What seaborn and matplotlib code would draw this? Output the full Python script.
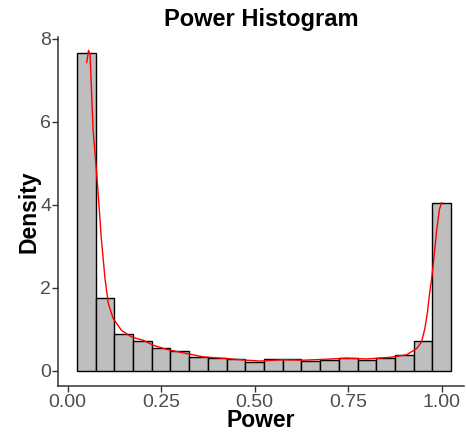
import matplotlib
matplotlib.use("Agg")
import matplotlib.pyplot as plt
import seaborn as sns
import pandas as pd

# Histogram bins (centres) and densities
bin_centers = [0.05, 0.10, 0.15, 0.20, 0.25, 0.30, 0.35, 0.40, 0.45, 0.50,
               0.55, 0.60, 0.65, 0.70, 0.75, 0.80, 0.85, 0.90, 0.95, 1.00]
bin_density = [7.66, 1.75, 0.88, 0.72, 0.545, 0.46, 0.33, 0.31, 0.29, 0.21,
               0.27, 0.28, 0.24, 0.25, 0.30, 0.26, 0.31, 0.37, 0.71, 4.03]

# Density curve points
curve_x = [0.051, 0.056, 0.060, 0.068, 0.079, 0.090, 0.100, 0.109, 0.122, 0.144,
           0.171, 0.202, 0.229, 0.265, 0.318, 0.363, 0.425, 0.479, 0.514, 0.576,
           0.630, 0.683, 0.746, 0.799, 0.862, 0.906, 0.933, 0.946, 0.955, 0.962,
           0.967, 0.973, 0.978, 0.987, 0.994, 1.000]
curve_y = [7.42, 7.72, 7.62, 5.82, 4.60, 3.20, 2.21, 1.61, 1.25, 0.97,
           0.81, 0.73, 0.61, 0.51, 0.41, 0.33, 0.29, 0.25, 0.23, 0.26,
           0.25, 0.27, 0.30, 0.28, 0.32, 0.38, 0.53, 0.69, 1.01, 1.41,
           1.81, 2.21, 2.61, 3.41, 3.89, 4.05]

x_ticks = [0.00, 0.25, 0.50, 0.75, 1.00]
x_tick_labels = ["0.00", "0.25", "0.50", "0.75", "1.00"]
y_ticks = [0, 2, 4, 6, 8]

sns.set_theme(style="white")
plt.rcParams['font.family'] = ['Liberation Sans', 'DejaVu Sans']

fig = plt.figure(figsize=(4.66, 4.33), dpi=100)
ax = fig.add_axes([0.125, 0.1075, 0.871, 0.807])

hist_df = pd.DataFrame({"Power": bin_centers, "w": bin_density})
sns.histplot(data=hist_df, x="Power", weights="w", binwidth=0.05,
             binrange=(0.025, 1.025), stat="count", color="#BEBEBE",
             edgecolor="black", linewidth=1.0, alpha=1.0, ax=ax)

curve_df = pd.DataFrame({"x": curve_x, "y": curve_y})
sns.lineplot(data=curve_df, x="x", y="y", color="red", linewidth=1.0,
             estimator=None, sort=False, ax=ax)

ax.set_xlim(-0.025, 1.06)
ax.set_ylim(-0.383, 8.04)
ax.set_xticks(x_ticks)
ax.set_xticklabels(x_tick_labels)
ax.set_yticks(y_ticks)

for s in ["top", "right"]:
    ax.spines[s].set_visible(False)
for s in ["left", "bottom"]:
    ax.spines[s].set_color("#333333")
    ax.spines[s].set_linewidth(1.1)

ax.tick_params(axis="both", which="both", length=4, width=1.0, color="#333333",
               labelsize=14, labelcolor="#4D4D4D", pad=1.2,
               bottom=True, left=True)

ax.set_xlabel("Power", fontsize=16.5, fontweight="bold", color="black", labelpad=-1.2)
ax.set_ylabel("Density", fontsize=16.5, fontweight="bold", color="black", labelpad=0)
ax.set_title("Power Histogram", fontsize=17, fontweight="bold", color="black", pad=8)
ax.grid(False)

fig.savefig("out.png", dpi=100)
